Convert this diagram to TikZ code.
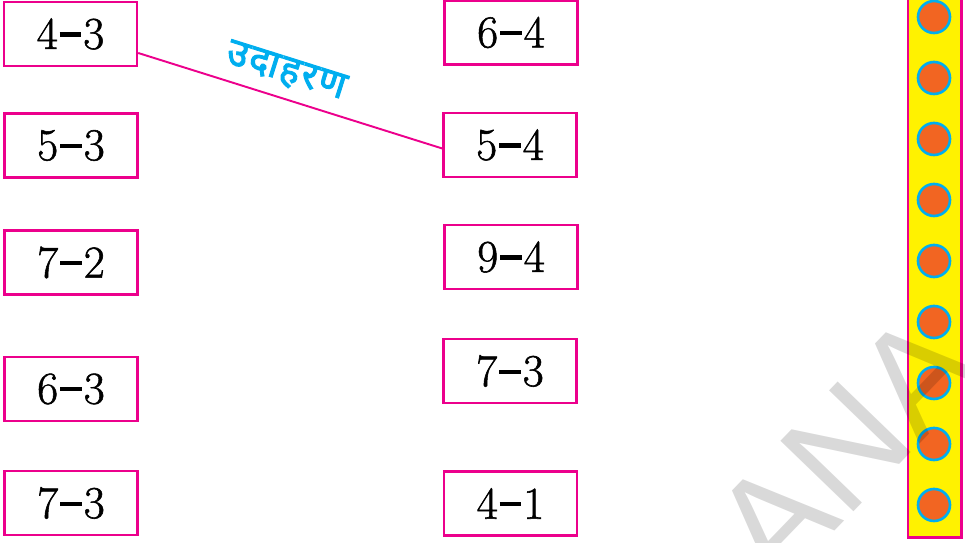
\documentclass[tikz,border=0pt]{standalone}
\usepackage{fontspec}
\usetikzlibrary{calc}
\newfontfamily\devafont[Script=Devanagari,FakeBold=2.5]{Noto Sans}
\newfontfamily\numfont[FakeBold=1.2]{Latin Modern Roman}
\newfontfamily\wmfont{Liberation Sans}
\definecolor{boxpink}{HTML}{EC008C}
\definecolor{lblcyan}{HTML}{00AEEF}
\definecolor{stripyellow}{HTML}{FFF200}
\definecolor{dotorange}{HTML}{F26522}
\newcommand\mn{\kern.04em\rule[.27em]{.48em}{.09em}\kern.04em}

\begin{document}
\begin{tikzpicture}[x=.02cm,y=-.02cm,
  numbox/.style={draw=boxpink,line width=1.4pt,minimum width=2.66cm,minimum height=1.28cm,inner sep=0pt,font=\numfont\fontsize{26}{30}\selectfont},
  dotring/.style={draw=lblcyan,fill=dotorange,line width=1.5pt}]
\path[use as bounding box] (0,0) rectangle (965,543);
\node[numbox] (b43) at (70.5,34) {4\mn3};
\node[numbox] (b53) at (71,145.5) {5\mn3};
\node[numbox] (b72) at (71,262.5) {7\mn2};
\node[numbox] (b63) at (71,389) {6\mn3};
\node[numbox] (b73a) at (71,503) {7\mn3};
\node[numbox] (b64) at (511,32.5) {6\mn4};
\node[numbox] (b54) at (510,145) {5\mn4};
\node[numbox] (b94) at (511,257) {9\mn4};
\node[numbox] (b73b) at (510,371) {7\mn3};
\node[numbox] (b41) at (510.5,503.5) {4\mn1};
\draw[boxpink,line width=1.1pt] ($(b43.east)+(0,19)$) -- ($(b54.west)+(0,3.5)$)
  node[pos=.46,sloped,above=6pt,inner sep=0pt,text=lblcyan,font=\devafont\fontsize{22}{24}\selectfont] (ex) {उ\kern1pt दा\kern1pt ह\kern1pt र\kern1pt ण};
\draw[fill=stripyellow,draw=boxpink,line width=1.4pt] (908,-5) rectangle (961.5,537.5);
\foreach \i in {0,...,8}
  \draw[dotring] (934,17+61*\i) circle[radius=.32cm];
\begin{scope}
\clip (0,0) rectangle (965,543);
\node[rotate=46,anchor=base east,inner sep=0pt,text=black,text opacity=.15,font=\wmfont\fontsize{84}{84}\selectfont] (wm) at (988,373) {TELANGANA};
\end{scope}
\end{tikzpicture}
\end{document}
